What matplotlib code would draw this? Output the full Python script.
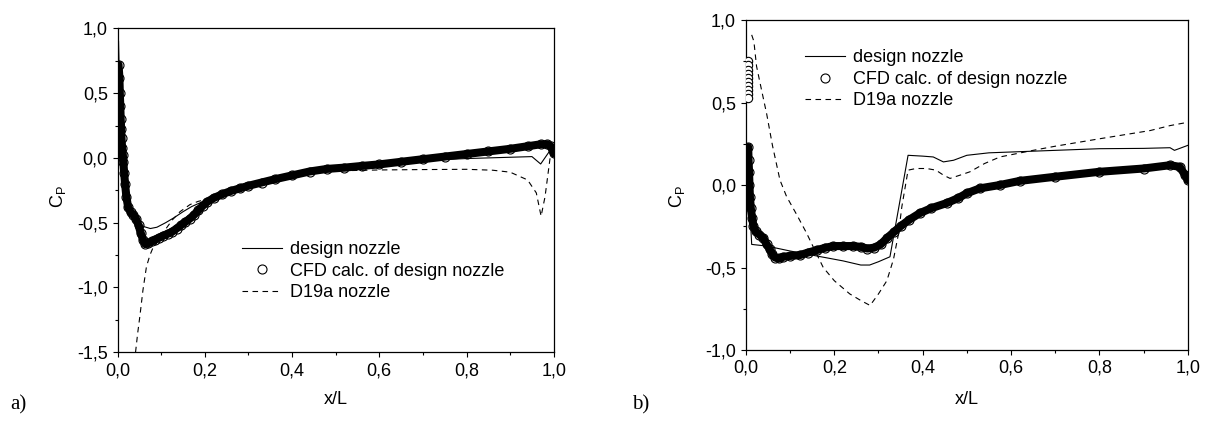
import numpy as np
import matplotlib
matplotlib.use("Agg")
import matplotlib.pyplot as plt
from matplotlib.ticker import MultipleLocator, FuncFormatter

plt.rcParams['font.family'] = ['Liberation Sans', 'DejaVu Sans']
plt.rcParams['mathtext.fontset'] = 'custom'
plt.rcParams['mathtext.rm'] = 'Liberation Sans'

# ---------------- Panel a data ----------------
a_design_x = [0.000, 0.002, 0.003, 0.006, 0.010, 0.015, 0.020, 0.030, 0.045, 0.060, 0.075, 0.090,
              0.110, 0.130, 0.150, 0.170, 0.190, 0.210, 0.250, 0.300, 0.400, 0.500, 0.600, 0.700,
              0.800, 0.900, 0.950, 0.970, 0.990, 1.000]
a_design_y = [0.95, 0.90, 0.75, 0.45, 0.12, -0.10, -0.25, -0.40, -0.48, -0.53, -0.545, -0.535,
              -0.50, -0.46, -0.415, -0.375, -0.345, -0.325, -0.28, -0.225, -0.14, -0.085, -0.045, -0.02,
              -0.005, 0.005, 0.01, -0.047, 0.05, 0.10]

a_cfd_x = [0.002, 0.004, 0.005, 0.006, 0.007, 0.008, 0.009, 0.010, 0.012, 0.013, 0.015, 0.017,
           0.020, 0.024, 0.030, 0.036, 0.042, 0.048, 0.053, 0.058, 0.063, 0.070, 0.078, 0.086,
           0.095, 0.105, 0.115, 0.125, 0.135, 0.145, 0.155, 0.165, 0.175, 0.185, 0.195, 0.205,
           0.220, 0.240, 0.260, 0.280, 0.300, 0.330, 0.360, 0.400, 0.440, 0.480, 0.520, 0.560,
           0.600, 0.650, 0.700, 0.750, 0.800, 0.850, 0.900, 0.940, 0.970, 0.985, 0.993, 0.998, 1.000]
a_cfd_y = [0.72, 0.62, 0.50, 0.40, 0.30, 0.22, 0.15, 0.08, 0.02, -0.03, -0.12, -0.20,
           -0.30, -0.38, -0.42, -0.44, -0.47, -0.52, -0.58, -0.63, -0.665, -0.66, -0.645, -0.63,
           -0.615, -0.60, -0.585, -0.57, -0.545, -0.52, -0.495, -0.47, -0.44, -0.405, -0.37, -0.34,
           -0.31, -0.28, -0.255, -0.235, -0.215, -0.19, -0.165, -0.135, -0.105, -0.085, -0.075, -0.062,
           -0.05, -0.03, -0.01, 0.01, 0.03, 0.05, 0.07, 0.09, 0.105, 0.105, 0.09, 0.06, 0.035]

a_d19_x = [0.041, 0.046, 0.051, 0.058, 0.066, 0.074, 0.082, 0.095, 0.110, 0.125, 0.143, 0.166,
           0.185, 0.205, 0.250, 0.310, 0.400, 0.500, 0.600, 0.700, 0.800, 0.860, 0.900, 0.940,
           0.960, 0.971, 0.980, 0.992, 0.997]
a_d19_y = [-1.50, -1.35, -1.22, -1.02, -0.84, -0.75, -0.685, -0.62, -0.55, -0.48, -0.415, -0.36,
           -0.335, -0.32, -0.27, -0.21, -0.14, -0.10, -0.093, -0.09, -0.088, -0.095, -0.11, -0.17,
           -0.27, -0.45, -0.30, 0.01, 0.06]

# ---------------- Panel b data ----------------
b_design_x = [0.008, 0.013, 0.047, 0.100, 0.160, 0.220, 0.260, 0.280, 0.300, 0.326, 0.367, 0.400,
              0.424, 0.447, 0.470, 0.500, 0.550, 0.600, 0.700, 0.800, 0.900, 0.960, 0.970, 1.000]
b_design_y = [-0.10, -0.36, -0.37, -0.40, -0.43, -0.46, -0.485, -0.485, -0.465, -0.435, 0.18, 0.175,
              0.17, 0.14, 0.15, 0.18, 0.195, 0.20, 0.21, 0.22, 0.222, 0.226, 0.21, 0.24]

b_cfd_stag_x = [0.004, 0.004, 0.004, 0.004, 0.004, 0.004, 0.004, 0.004, 0.004, 0.004]
b_cfd_stag_y = [0.75, 0.725, 0.70, 0.675, 0.65, 0.625, 0.60, 0.575, 0.55, 0.525]

b_cfd_x = [0.005, 0.006, 0.007, 0.008, 0.009, 0.011, 0.014, 0.017, 0.022, 0.030, 0.039, 0.047,
           0.054, 0.060, 0.066, 0.075, 0.085, 0.100, 0.122, 0.140, 0.160, 0.180, 0.198, 0.220,
           0.243, 0.260, 0.275, 0.290, 0.305, 0.320, 0.335, 0.350, 0.370, 0.394, 0.420, 0.454,
           0.480, 0.500, 0.530, 0.575, 0.620, 0.700, 0.800, 0.900, 0.960, 0.982, 0.994, 1.000]
b_cfd_y = [0.23, 0.15, 0.08, 0.00, -0.07, -0.14, -0.20, -0.25, -0.28, -0.30, -0.32, -0.36,
           -0.39, -0.42, -0.44, -0.445, -0.435, -0.43, -0.425, -0.41, -0.395, -0.38, -0.37, -0.37,
           -0.37, -0.375, -0.385, -0.38, -0.36, -0.32, -0.285, -0.25, -0.21, -0.17, -0.14, -0.11,
           -0.08, -0.05, -0.02, 0.00, 0.025, 0.05, 0.08, 0.10, 0.12, 0.11, 0.06, 0.03]

b_d19_x = [0.013, 0.018, 0.024, 0.035, 0.047, 0.060, 0.077, 0.092, 0.115, 0.137, 0.155, 0.175,
           0.200, 0.235, 0.260, 0.281, 0.300, 0.319, 0.334, 0.345, 0.353, 0.360, 0.367, 0.385,
           0.409, 0.430, 0.447, 0.462, 0.485, 0.507, 0.540, 0.575, 0.650, 0.700, 0.800, 0.915,
           0.960, 1.000]
b_d19_y = [0.91, 0.87, 0.72, 0.58, 0.43, 0.24, 0.03, -0.07, -0.18, -0.29, -0.39, -0.50,
           -0.58, -0.66, -0.70, -0.73, -0.66, -0.58, -0.45, -0.30, -0.13, -0.02, 0.09, 0.10,
           0.10, 0.09, 0.06, 0.04, 0.06, 0.08, 0.13, 0.17, 0.21, 0.235, 0.28, 0.33,
           0.36, 0.38]

labels = ["design nozzle", "CFD calc. of design nozzle", "D19a nozzle"]
xticks = [0.0, 0.2, 0.4, 0.6, 0.8, 1.0]
a_yticks = [-1.5, -1.0, -0.5, 0.0, 0.5, 1.0]
b_yticks = [-1.0, -0.5, 0.0, 0.5, 1.0]

FS = 13
comma = FuncFormatter(lambda v, p: ("%.1f" % v).replace('.', ','))

fig = plt.figure(figsize=(12.08, 4.22), dpi=100)
ax_a = fig.add_axes([0.0974, 0.1652, 0.3610, 0.7677])
ax_b = fig.add_axes([0.6175, 0.1706, 0.3657, 0.7820])


def style(ax, yticks, ylab_x, ylab_y, xlab_y):
    ax.set_xlim(0, 1.0)
    ax.set_ylim(yticks[0], yticks[-1])
    ax.set_xticks(xticks)
    ax.set_yticks(yticks)
    ax.xaxis.set_minor_locator(MultipleLocator(0.1))
    ax.yaxis.set_minor_locator(MultipleLocator(0.25))
    ax.xaxis.set_major_formatter(comma)
    ax.yaxis.set_major_formatter(comma)
    ax.tick_params(which='major', direction='out', length=3.6, width=0.8, labelsize=FS, pad=3.5)
    ax.tick_params(which='minor', direction='out', length=2.2, width=0.8)
    for s in ax.spines.values():
        s.set_linewidth(0.9)
    ax.set_xlabel("x/L", fontsize=FS)
    ax.set_ylabel(r"C$_\mathrm{P}$", fontsize=FS)
    ax.yaxis.set_label_coords(ylab_x, ylab_y)
    ax.xaxis.set_label_coords(0.5, xlab_y)


def draw(ax, dx, dy, cx, cy, ex, ey):
    ax.plot(cx, cy, color='black', lw=5.8, solid_capstyle='round', zorder=2)
    ax.plot(cx, cy, linestyle='none', marker='o', ms=6.5, mfc='none', mec='black', mew=0.8,
            zorder=3, label=labels[1])
    ax.plot(dx, dy, color='black', lw=0.8, zorder=4, label=labels[0])
    ax.plot(ex, ey, color='black', lw=0.8, linestyle=(0, (5, 4)), zorder=4, label=labels[2])


draw(ax_a, a_design_x, a_design_y, a_cfd_x, a_cfd_y, a_d19_x, a_d19_y)
draw(ax_b, b_design_x, b_design_y, b_cfd_x, b_cfd_y, b_d19_x, b_d19_y)
ax_b.plot(b_cfd_stag_x, b_cfd_stag_y, linestyle='none', marker='o', ms=6.0, mfc='white',
          mec='black', mew=0.8, zorder=3)

style(ax_a, a_yticks, -0.114, 0.48, -0.119)
style(ax_b, b_yticks, -0.134, 0.464, -0.124)

for ax, anchor in ((ax_a, (0.269, 0.365)), (ax_b, (0.118, 0.933))):
    h, l = ax.get_legend_handles_labels()
    order = [l.index(t) for t in labels]
    ax.legend([h[i] for i in order], [l[i] for i in order], loc='upper left',
              bbox_to_anchor=anchor, frameon=False, fontsize=FS, handlelength=2.2,
              handletextpad=0.45, labelspacing=0.25, numpoints=1, borderaxespad=0)

fig.text(10 / 1208, 1 - 405 / 422, "a)", family=['Liberation Serif'], fontsize=15, va='center')
fig.text(632 / 1208, 1 - 405 / 422, "b)", family=['Liberation Serif'], fontsize=15, va='center')

fig.savefig("out.png", dpi=100)
